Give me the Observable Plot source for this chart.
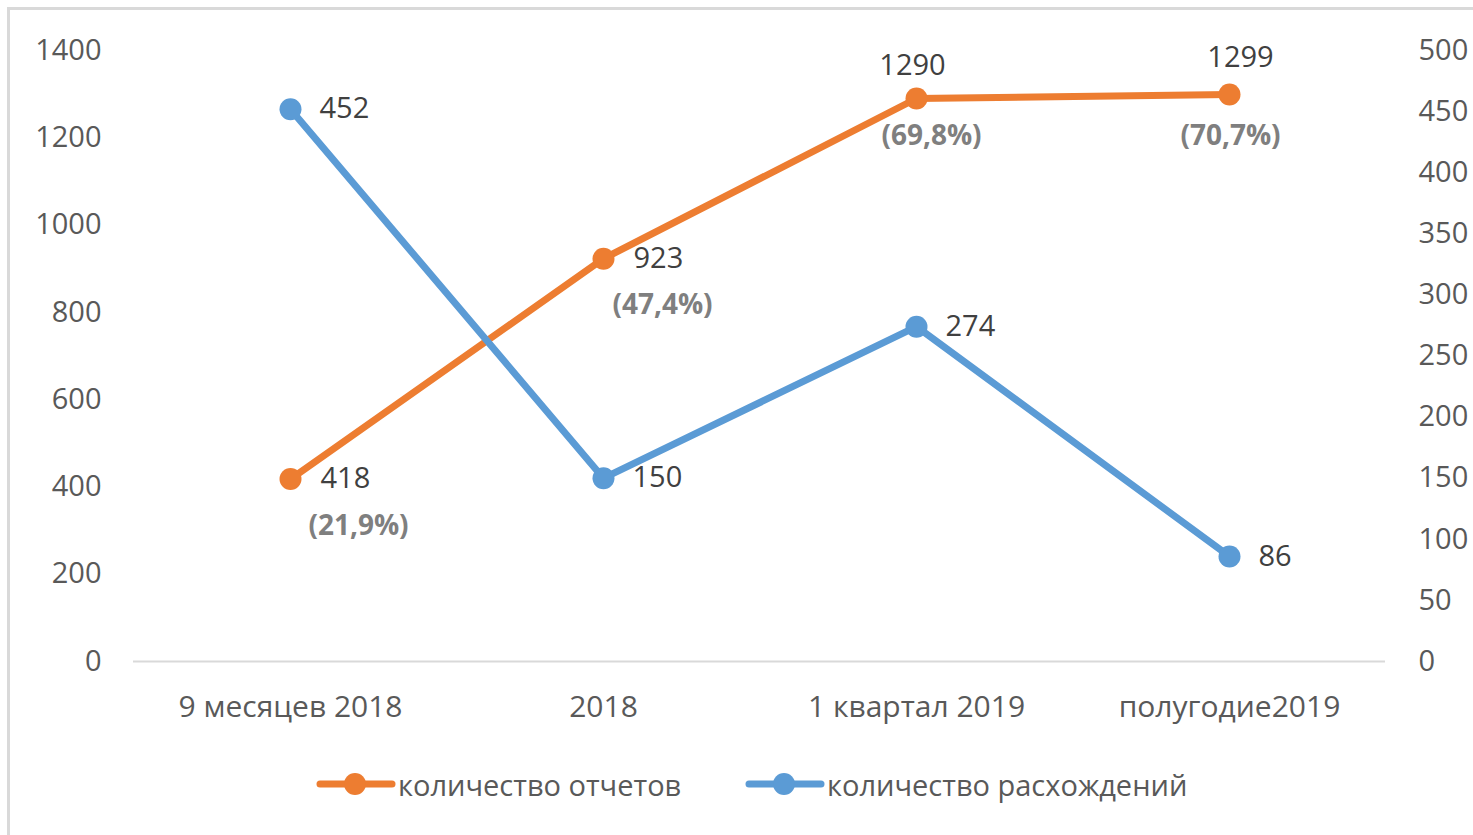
<!DOCTYPE html>
<html><head><meta charset="utf-8">
<script src="https://cdn.jsdelivr.net/npm/d3@7"></script>
<script src="https://cdn.jsdelivr.net/npm/@observablehq/plot@0.6"></script>
<style>
html,body{margin:0;padding:0;background:#fff;overflow:hidden;width:1473px;height:835px;position:relative;}
#frame{position:absolute;left:7px;top:7px;width:1490px;height:850px;border:3px solid #d9d9d9;box-sizing:border-box;pointer-events:none;}
#chart{position:absolute;left:0;top:0;}
.item{position:absolute;top:764px;height:40px;display:flex;align-items:center;font-family:"Open Sans",sans-serif;font-size:29px;color:#595959;white-space:nowrap;}
.item svg{display:block;margin-right:2px;}
</style></head><body>
<div id="chart"></div>
<div id="legend"></div>
<div id="frame"></div>
<script>
const categories = ["9 месяцев 2018", "2018", "1 квартал 2019", "полугодие2019"];
const reports = [418, 923, 1290, 1299];
const reportShares = ["(21,9%)", "(47,4%)", "(69,8%)", "(70,7%)"];
const discrepancies = [452, 150, 274, 86];
const leftTicks = [0, 200, 400, 600, 800, 1000, 1200, 1400];
const rightTicks = [0, 50, 100, 150, 200, 250, 300, 350, 400, 450, 500];
const seriesNames = ["количество отчетов", "количество расхождений"];
const colors = ["#ED7D31", "#5B9BD5"];

const leftMax = 1400, rightMax = 500;
const ratio = leftMax / rightMax;

const repData = categories.map((c, i) => ({cat: c, v: reports[i], label: String(reports[i]), share: reportShares[i], i}));
const discData = categories.map((c, i) => ({cat: c, v: discrepancies[i] * ratio, label: String(discrepancies[i]), i}));

// label placement (styling only)
const valueOffsets = [[30, 0, "start"], [30, 0, "start"], [-4, -33, "middle"], [11, -37, "middle"]];
const shareOffsets = [[68, 47], [59, 46], [15, 38], [1, 41]];

const labelMarks = [];
valueOffsets.forEach(([dx, dy, anchor], k) => {
  labelMarks.push(Plot.text(repData, {filter: d => d.i === k, x: "cat", y: "v", text: "label", dx, dy, textAnchor: anchor, fill: "#404040", fontSize: 29}));
});
shareOffsets.forEach(([dx, dy], k) => {
  labelMarks.push(Plot.text(repData, {filter: d => d.i === k, x: "cat", y: "v", text: "share", dx, dy, fill: "#7f7f7f", fontWeight: "bold", fontSize: 28}));
});

const chart = Plot.plot({
  width: 1473,
  height: 745,
  marginTop: 50,
  marginBottom: 84,
  marginLeft: 133,
  marginRight: 88,
  style: {fontFamily: "'Open Sans', sans-serif", fontSize: "29px", color: "#595959", background: "transparent"},
  x: {type: "point", domain: categories, padding: 0.5},
  y: {domain: [0, leftMax]},
  marks: [
    Plot.ruleY([0], {stroke: "#d9d9d9", strokeWidth: 2}),
    Plot.axisY({ticks: leftTicks, tickFormat: d => String(d), tickSize: 0, tickPadding: 32, label: null, fontSize: 29}),
    Plot.axisY({anchor: "right", ticks: rightTicks.map(d => d * ratio), tickFormat: d => String(Math.round(d / ratio)), tickSize: 0, tickPadding: 33, label: null, fontSize: 29}),
    Plot.axisX({tickSize: 0, tickPadding: 34, label: null, fontSize: 30}),
    Plot.line(repData, {x: "cat", y: "v", stroke: colors[0], strokeWidth: 7}),
    Plot.dot(repData, {x: "cat", y: "v", r: 11, fill: colors[0]}),
    Plot.line(discData, {x: "cat", y: "v", stroke: colors[1], strokeWidth: 7}),
    Plot.dot(discData, {x: "cat", y: "v", r: 11, fill: colors[1]}),
    ...labelMarks,
    Plot.text(discData, {x: "cat", y: "v", text: "label", dx: 29, textAnchor: "start", fill: "#404040", fontSize: 29})
  ]
});
document.getElementById("chart").appendChild(chart);

const legend = document.getElementById("legend");
const lefts = [316, 745];
seriesNames.forEach((name, i) => {
  const it = document.createElement("div");
  it.className = "item";
  it.style.left = lefts[i] + "px";
  it.innerHTML = `<svg width="80" height="30"><line x1="4" y1="15" x2="76" y2="15" stroke="${colors[i]}" stroke-width="7" stroke-linecap="round"/><circle cx="39" cy="15" r="11" fill="${colors[i]}"/></svg><span>${name}</span>`;
  legend.appendChild(it);
});
</script>
</body></html>
